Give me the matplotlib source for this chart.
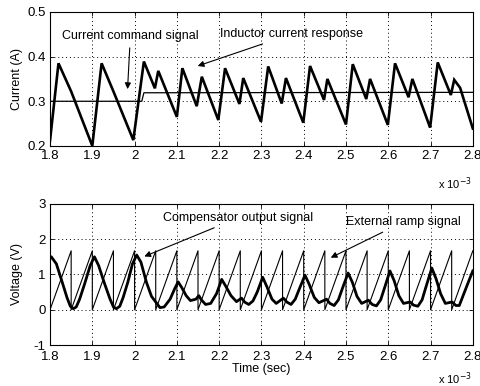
import matplotlib
matplotlib.use("Agg")
import matplotlib.pyplot as plt

plt.rcParams['font.family'] = ['Liberation Sans', 'DejaVu Sans']

# ---------------- data (time in ms) ----------------
t_il = [1.800, 1.820, 1.850, 1.900, 1.922, 1.950, 1.997, 2.022, 2.048, 2.056,
        2.100, 2.113, 2.147, 2.159, 2.198, 2.214, 2.248, 2.257, 2.299, 2.316,
        2.348, 2.358, 2.399, 2.415, 2.448, 2.456, 2.500, 2.516, 2.548, 2.557,
        2.599, 2.616, 2.648, 2.657, 2.699, 2.717, 2.748, 2.756, 2.770, 2.800]
i_l = [0.212, 0.385, 0.322, 0.200, 0.385, 0.322, 0.213, 0.389, 0.329, 0.368,
       0.265, 0.374, 0.289, 0.355, 0.258, 0.374, 0.294, 0.352, 0.254, 0.378,
       0.295, 0.352, 0.252, 0.379, 0.303, 0.350, 0.248, 0.383, 0.305, 0.350,
       0.247, 0.385, 0.309, 0.350, 0.241, 0.387, 0.314, 0.348, 0.330, 0.239]

t_cmd = [1.800, 2.017, 2.022, 2.800]
i_cmd = [0.300, 0.300, 0.319, 0.320]

t_comp = [1.800, 1.803, 1.815, 1.827, 1.840, 1.848, 1.855, 1.862, 1.870, 1.882,
          1.895, 1.905, 1.915, 1.929, 1.942, 1.950, 1.957, 1.965, 1.973, 1.984,
          1.995, 2.005, 2.015, 2.028, 2.040, 2.050, 2.060, 2.070, 2.084, 2.095,
          2.103, 2.112, 2.122, 2.132, 2.145, 2.152, 2.158, 2.168, 2.180, 2.194,
          2.206, 2.215, 2.228, 2.241, 2.253, 2.260, 2.270, 2.280, 2.290, 2.303,
          2.313, 2.325, 2.335, 2.352, 2.360, 2.370, 2.380, 2.390, 2.403, 2.413,
          2.425, 2.436, 2.454, 2.462, 2.472, 2.482, 2.492, 2.505, 2.515, 2.526,
          2.537, 2.553, 2.562, 2.572, 2.582, 2.592, 2.604, 2.614, 2.625, 2.636,
          2.652, 2.660, 2.670, 2.680, 2.690, 2.703, 2.713, 2.724, 2.735, 2.751,
          2.760, 2.768, 2.777, 2.790, 2.800]
v_comp = [1.45, 1.50, 1.30, 0.85, 0.35, 0.10, 0.03, 0.08, 0.30, 0.74,
          1.25, 1.50, 1.25, 0.74, 0.30, 0.08, 0.03, 0.10, 0.35, 0.78,
          1.30, 1.55, 1.35, 0.78, 0.38, 0.22, 0.06, 0.08, 0.30, 0.60,
          0.79, 0.62, 0.40, 0.26, 0.30, 0.40, 0.28, 0.15, 0.18, 0.46,
          0.86, 0.68, 0.40, 0.23, 0.33, 0.22, 0.15, 0.25, 0.50, 0.92,
          0.65, 0.30, 0.18, 0.33, 0.22, 0.15, 0.30, 0.60, 0.98, 0.72,
          0.35, 0.20, 0.30, 0.18, 0.12, 0.28, 0.62, 1.04, 0.78, 0.38,
          0.18, 0.27, 0.15, 0.11, 0.28, 0.65, 1.10, 0.82, 0.40, 0.18,
          0.22, 0.13, 0.10, 0.28, 0.68, 1.18, 0.88, 0.45, 0.18, 0.22,
          0.12, 0.12, 0.40, 0.80, 1.10]

ramp_start = [1.80, 1.85, 1.90, 1.95, 2.00, 2.05, 2.10, 2.15, 2.20, 2.25,
              2.30, 2.35, 2.40, 2.45, 2.50, 2.55, 2.60, 2.65, 2.70, 2.75]
ramp_period = 0.05
ramp_low = 0.0
ramp_high = 1.67

xticks = [1.8, 1.9, 2.0, 2.1, 2.2, 2.3, 2.4, 2.5, 2.6, 2.7, 2.8]
xticklabels = ['1.8', '1.9', '2', '2.1', '2.2', '2.3', '2.4', '2.5', '2.6', '2.7', '2.8']
yticks_top = [0.2, 0.3, 0.4, 0.5]
yticklabels_top = ['0.2', '0.3', '0.4', '0.5']
yticks_bot = [-1, 0, 1, 2, 3]
yticklabels_bot = ['-1', '0', '1', '2', '3']

# ramp vertices
t_ramp, v_ramp = [], []
for s in ramp_start:
    t_ramp += [s, s + ramp_period]
    v_ramp += [ramp_low, ramp_high]

# ---------------- figure ----------------
fig = plt.figure(figsize=(4.81, 3.86), dpi=100)
ax1 = fig.add_axes([0.104, 0.622, 0.879, 0.347])
ax2 = fig.add_axes([0.104, 0.106, 0.879, 0.366])

fs = 9.5

def style(ax, yt, ytl, ylim, xpad):
    ax.set_xlim(1.8, 2.8)
    ax.set_ylim(*ylim)
    ax.set_xticks(xticks)
    ax.set_xticklabels(xticklabels, fontsize=fs)
    ax.set_yticks(yt)
    ax.set_yticklabels(ytl, fontsize=fs)
    ax.tick_params(direction='in', length=3, width=0.6, top=True, right=True)
    ax.tick_params(axis='x', pad=xpad)
    ax.tick_params(axis='y', pad=3)
    ax.grid(True, color='black', linestyle=(0, (1, 3)), linewidth=0.7)
    for sp in ax.spines.values():
        sp.set_linewidth(0.8)

ax1.plot(t_cmd, i_cmd, color='black', lw=0.9)
ax1.plot(t_il, i_l, color='black', lw=1.9, solid_joinstyle='miter')
style(ax1, yticks_top, yticklabels_top, (0.2, 0.5), 3)
ax1.set_ylabel('Current (A)', fontsize=9, labelpad=3)

ax2.plot(t_ramp, v_ramp, color='black', lw=0.8)
ax2.plot(t_comp, v_comp, color='black', lw=2.0)
style(ax2, yticks_bot, yticklabels_bot, (-1, 3), 4)
ax2.set_ylabel('Voltage (V)', fontsize=9, labelpad=8)
ax2.set_xlabel('Time (sec)', fontsize=9, labelpad=0)

arrow = dict(arrowstyle='-|>', color='black', lw=0.8, mutation_scale=9)
afs = 9
ax1.annotate('Current command signal', xy=(1.983, 0.321), xytext=(1.99, 0.432),
             fontsize=afs, ha='center', va='bottom', arrowprops=arrow)
ax1.annotate('Inductor current response', xy=(2.143, 0.377), xytext=(2.37, 0.45),
             fontsize=afs, ha='center', va='center', arrowprops=arrow)
ax2.annotate('Compensator output signal', xy=(2.017, 1.48), xytext=(2.245, 2.6),
             fontsize=afs, ha='center', va='center', arrowprops=arrow)
ax2.annotate('External ramp signal', xy=(2.458, 1.44), xytext=(2.635, 2.48),
             fontsize=afs, ha='center', va='center', arrowprops=arrow)

fig.text(0.945, 0.525, r'x 10$^{-3}$', fontsize=8, ha='center', va='center')
fig.text(0.945, 0.02, r'x 10$^{-3}$', fontsize=8, ha='center', va='center')

fig.savefig('out.png', dpi=100)
